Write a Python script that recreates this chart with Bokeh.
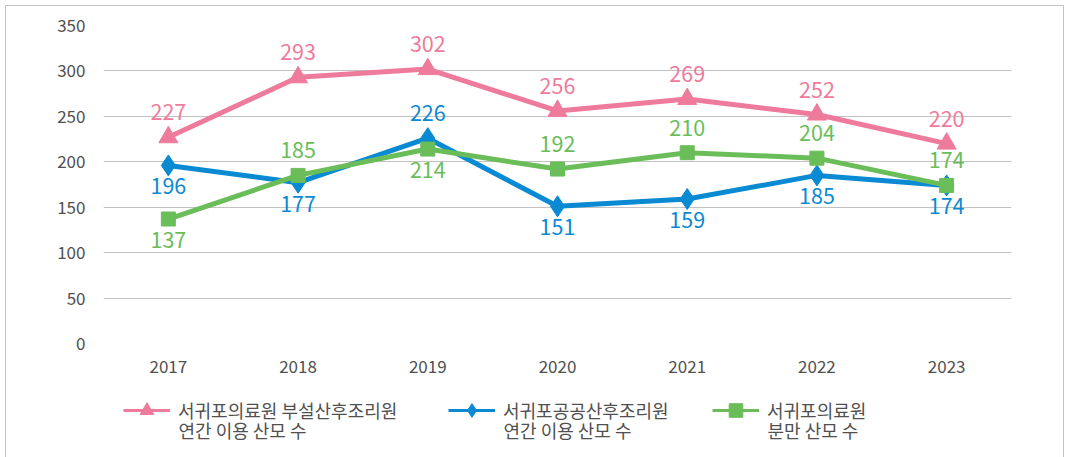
from bokeh.plotting import figure
from bokeh.layouts import column
from bokeh.models import ColumnDataSource, Legend, LegendItem, FactorRange, SingleIntervalTicker, Label
from bokeh.core.properties import value
from bokeh.embed import file_html
from bokeh.resources import INLINE

years = ["2017", "2018", "2019", "2020", "2021", "2022", "2023"]
hospital_postnatal = [227, 293, 302, 256, 269, 252, 220]
public_postnatal = [196, 177, 226, 151, 159, 185, 174]
hospital_delivery = [137, 185, 214, 192, 210, 204, 174]

# label placement: 1 = above point, -1 = below point
pos_pink = [1, 1, 1, 1, 1, 1, 1]
pos_blue = [-1, -1, 1, -1, -1, -1, -1]
pos_green = [-1, 1, -1, 1, 1, 1, 1]

labels = [
    "서귀포의료원 부설산후조리원\n연간 이용 산모 수",
    "서귀포공공산후조리원\n연간 이용 산모 수",
    "서귀포의료원\n분만 산모 수",
]

PINK = "#EE7B9B"
BLUE = "#0A8AD2"
GREEN = "#6ABD59"
FONT = "Noto Sans CJK KR"
TXT = "#505050"

p = figure(
    x_range=FactorRange(*years, range_padding=0),
    y_range=(0, 350),
    width=1057, height=380,
    min_border_left=97, min_border_right=52, min_border_top=19, min_border_bottom=43,
    output_backend="svg", toolbar_location=None,
)
p.outline_line_color = None
p.background_fill_color = "white"
p.border_fill_color = "white"

p.xgrid.grid_line_color = None
p.ygrid.grid_line_color = "#c2c2c2"
p.ygrid.grid_line_width = 1

p.yaxis.ticker = SingleIntervalTicker(interval=50)
for ax in (p.xaxis[0], p.yaxis[0]):
    ax.axis_line_color = None
    ax.major_tick_line_color = None
    ax.minor_tick_line_color = None
    ax.major_label_text_font = FONT
    ax.major_label_text_font_size = "17px"
    ax.major_label_text_color = TXT
p.yaxis.major_label_standoff = 12
p.xaxis.major_label_standoff = 10

def add_series(vals, pos, color, marker, msize):
    offs = [-25 if d > 0 else 21 for d in pos]
    src = ColumnDataSource(dict(x=years, y=vals, t=[str(v) for v in vals], off=offs))
    p.line("x", "y", source=src, line_color=color, line_width=5)
    p.scatter("x", "y", source=src, marker=marker, size=msize, fill_color=color, line_color=color)
    p.text("x", "y", text="t", source=src, y_offset="off", text_align="center",
           text_baseline="middle", text_color=color, text_font=value(FONT),
           text_font_size="21.5px")

add_series(hospital_postnatal, pos_pink, PINK, "triangle", 19)
add_series(public_postnatal, pos_blue, BLUE, "diamond", 21)
add_series(hospital_delivery, pos_green, GREEN, "square", 14)

# legend figure below the chart
lg = figure(width=1057, height=80, x_range=(0, 1), y_range=(0, 1),
            x_axis_type=None, y_axis_type=None,
            min_border_left=0, min_border_right=0, min_border_top=0, min_border_bottom=0,
            output_backend="svg", toolbar_location=None)
lg.outline_line_color = None
lg.xgrid.visible = False
lg.ygrid.visible = False
lg.border_fill_color = "white"

legend_x = [20, 345, 609]
for lab, color, marker, lx in zip(labels, [PINK, BLUE, GREEN], ["triangle", "diamond", "square"], legend_x):
    first, second = lab.split("\n")
    esrc = ColumnDataSource(dict(x=[-10], y=[-10]))
    r1 = lg.line("x", "y", source=esrc, line_color=color, line_width=3)
    r2 = lg.scatter("x", "y", source=esrc, marker=marker, fill_color=color, line_color=color)
    legend = Legend(items=[LegendItem(label=first, renderers=[r1, r2])], location=(lx, 39),
                    glyph_width=47, glyph_height=34, label_standoff=8,
                    padding=0, margin=0, border_line_color=None, background_fill_alpha=0,
                    label_text_font=FONT, label_text_font_size="18px", label_text_color=TXT)
    lg.add_layout(legend, "center")
    lg.add_layout(Label(x=lx + 55, y=37, x_units="screen", y_units="screen", text=second,
                        text_font=FONT, text_font_size="18px", text_color=TXT,
                        text_baseline="middle", text_align="left"))

lay = column(p, lg, spacing=0)
lay.styles = {"border": "1px solid #c4c4c4", "margin-left": "5px", "margin-top": "5px"}

open("out.html", "w").write(file_html(lay, INLINE))
